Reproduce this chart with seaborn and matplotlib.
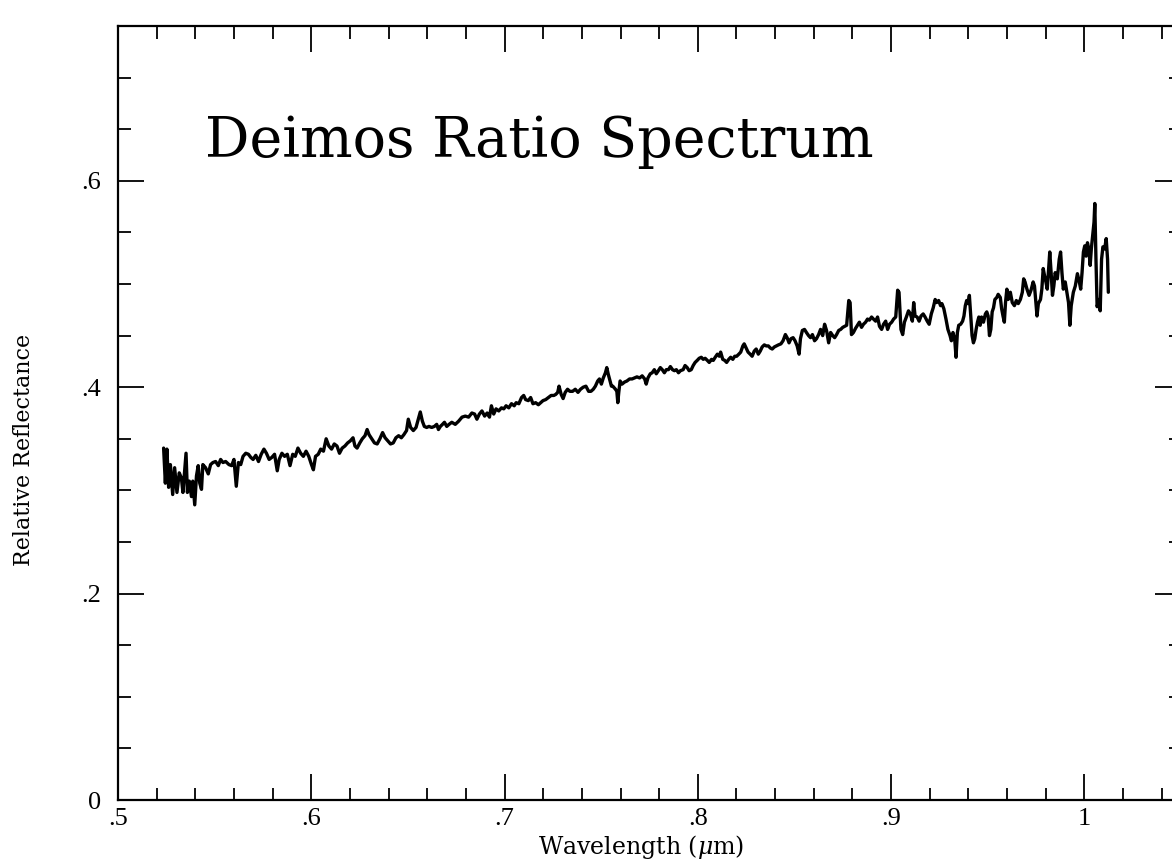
import numpy as np
import pandas as pd
import matplotlib
matplotlib.use("Agg")
import matplotlib.pyplot as plt
import seaborn as sns
from matplotlib.ticker import FixedLocator, FixedFormatter, MultipleLocator

# ---------------- data ----------------
wl_a = [0.5236,0.5245,0.5253,0.5262,0.5271,0.5283,0.5293,0.5305,0.5317,0.5328,
        0.5336,0.5345,0.5352,0.5359,0.5369,0.5380,0.5387,0.5397,0.5406,0.5415,
        0.5423,0.5432,0.5439,0.5453,0.5467,0.5479,0.5491,0.5505,0.5519,0.5531,
        0.5543,0.5557,0.5574,0.5588,0.5600,0.5612,0.5623,0.5635,0.5647,0.5661,
        0.5675,0.5687,0.5699,0.5713,0.5727,0.5741,0.5755,0.5768,0.5782,0.5796,
        0.5810,0.5824,0.5834,0.5848,0.5862,0.5876,0.5890,0.5904,0.5917,0.5931,
        0.5945,0.5959,0.5973,0.5987,0.6001,0.6011,0.6022,0.6036,0.6049,0.6063,
        0.6077,0.6091,0.6105,0.6119,0.6133,0.6146,0.6160,0.6174,0.6188,0.6202,
        0.6216,0.6226,0.6237,0.6251,0.6264,0.6278,0.6289,0.6299,0.6313,0.6327,
        0.6341,0.6355,0.6369,0.6382,0.6396,0.6410,0.6424,0.6438,0.6452,0.6466,
        0.6479,0.6493,0.6502,0.6514,0.6528,0.6542]
refl_a = [0.341,0.307,0.340,0.303,0.325,0.296,0.322,0.298,0.317,0.312,
          0.298,0.319,0.336,0.298,0.309,0.294,0.309,0.286,0.314,0.324,
          0.307,0.301,0.325,0.322,0.316,0.325,0.327,0.328,0.324,0.330,
          0.327,0.328,0.325,0.324,0.330,0.304,0.327,0.325,0.333,0.336,
          0.335,0.332,0.330,0.334,0.328,0.335,0.340,0.336,0.330,0.332,
          0.335,0.319,0.330,0.336,0.333,0.335,0.324,0.335,0.333,0.341,
          0.336,0.333,0.338,0.333,0.325,0.320,0.333,0.335,0.340,0.338,
          0.350,0.343,0.340,0.345,0.343,0.336,0.341,0.343,0.346,0.348,
          0.351,0.343,0.341,0.346,0.350,0.353,0.359,0.354,0.350,0.346,
          0.345,0.350,0.356,0.351,0.348,0.345,0.346,0.351,0.353,0.351,
          0.354,0.358,0.369,0.361,0.358,0.361]

wl_b = [0.6554,0.6564,0.6575,0.6585,0.6597,0.6609,0.6623,0.6637,0.6649,0.6658,
        0.6668,0.6679,0.6689,0.6701,0.6713]
refl_b = [0.369,0.376,0.367,0.362,0.361,0.362,0.361,0.362,0.364,0.359,
          0.362,0.364,0.366,0.362,0.364]

wl_c = [0.6727,0.6745,0.6762,0.6780,0.6797,0.6814,0.6831,0.6845,0.6857,0.6870,
        0.6883,0.6897,0.6910,0.6922,0.6932,0.6944,0.6956,0.6970,0.6984,0.6996,
        0.7008,0.7022,0.7036,0.7050,0.7060,0.7074,0.7088,0.7099,0.7109,0.7123,
        0.7135,0.7147,0.7161,0.7175,0.7187,0.7199,0.7213,0.7227,0.7241,0.7255,
        0.7265,0.7275,0.7282,0.7293,0.7303,0.7314,0.7326,0.7338,0.7352,0.7366,
        0.7380,0.7393,0.7407,0.7421,0.7435,0.7447,0.7459,0.7470,0.7482,0.7491,
        0.7501,0.7511,0.7522,0.7529,0.7536,0.7543,0.7553]
refl_c = [0.366,0.364,0.367,0.371,0.372,0.371,0.375,0.374,0.369,0.374,
          0.377,0.372,0.375,0.371,0.382,0.374,0.379,0.377,0.380,0.379,
          0.382,0.380,0.384,0.382,0.385,0.384,0.390,0.392,0.388,0.387,
          0.390,0.384,0.385,0.383,0.385,0.387,0.388,0.390,0.392,0.392,
          0.393,0.395,0.401,0.393,0.389,0.395,0.398,0.396,0.396,0.398,
          0.395,0.398,0.400,0.401,0.396,0.396,0.398,0.401,0.406,0.408,
          0.403,0.409,0.414,0.419,0.413,0.408,0.401]

wl_d = [0.7560,0.7574,0.7581,0.7586,0.7591,0.7598,0.7608,0.7621,0.7633,0.7647,
        0.7660,0.7673,0.7685,0.7699,0.7712,0.7725,0.7733,0.7742,0.7754,0.7764,
        0.7775,0.7785,0.7796,0.7806,0.7816,0.7827,0.7837,0.7848,0.7858,0.7869,
        0.7879,0.7889,0.7900,0.7910,0.7924,0.7934,0.7945,0.7955,0.7966,0.7976,
        0.7986,0.7997,0.8007,0.8018,0.8028,0.8038,0.8049,0.8059,0.8071,0.8080,
        0.8090,0.8101,0.8111,0.8118,0.8129,0.8139,0.8149,0.8160,0.8170,0.8181,
        0.8191,0.8201,0.8212,0.8222,0.8233,0.8240,0.8250,0.8260,0.8271,0.8281,
        0.8292,0.8302,0.8313,0.8323,0.8333,0.8344,0.8354,0.8365,0.8375,0.8385,
        0.8396,0.8406,0.8417]
refl_d = [0.401,0.398,0.396,0.385,0.395,0.406,0.403,0.405,0.406,0.408,
          0.408,0.409,0.410,0.409,0.411,0.408,0.403,0.409,0.413,0.414,
          0.417,0.413,0.416,0.419,0.417,0.414,0.417,0.417,0.420,0.417,
          0.416,0.417,0.414,0.416,0.417,0.421,0.419,0.416,0.417,0.421,
          0.424,0.426,0.428,0.429,0.427,0.428,0.426,0.424,0.427,0.426,
          0.429,0.432,0.430,0.434,0.427,0.426,0.424,0.427,0.429,0.427,
          0.430,0.430,0.432,0.434,0.440,0.442,0.438,0.434,0.432,0.430,
          0.435,0.437,0.432,0.435,0.439,0.441,0.440,0.440,0.438,0.437,
          0.439,0.440,0.441]

wl_e = [0.8430,0.8441,0.8453,0.8462,0.8472,0.8482,0.8493,
        0.8503,0.8514,0.8524,0.8531,0.8541,0.8552,0.8562,0.8573,0.8583,0.8593,
        0.8604,0.8614,0.8625,0.8635,0.8646,0.8656,0.8666,0.8677,0.8687,0.8698,
        0.8708,0.8718,0.8729,0.8739,0.8750,0.8760,0.8770,0.8781,0.8788,0.8795,
        0.8805,0.8816,0.8826,0.8836,0.8847,0.8857,0.8868,0.8878,0.8888,0.8899,
        0.8909,0.8920,0.8930,0.8940,0.8951,0.8961,0.8972,0.8982,0.8992,0.9003,
        0.9013,0.9024,0.9034,0.9041,0.9051,0.9060,0.9069,0.9079,0.9090,0.9100,
        0.9110,0.9117,0.9124,0.9135,0.9145,0.9155,0.9166,0.9176,0.9187,0.9197,
        0.9208,0.9218,0.9228]
refl_e = [0.442,0.445,0.451,0.448,0.443,0.447,0.448,
          0.445,0.440,0.432,0.447,0.455,0.456,0.453,0.450,0.448,0.451,
          0.445,0.447,0.451,0.456,0.450,0.461,0.455,0.443,0.453,0.450,
          0.448,0.451,0.455,0.456,0.458,0.459,0.460,0.484,0.482,0.451,
          0.453,0.457,0.460,0.463,0.458,0.461,0.463,0.466,0.465,0.468,
          0.466,0.464,0.468,0.459,0.456,0.461,0.464,0.456,0.461,0.463,
          0.466,0.468,0.494,0.492,0.456,0.451,0.463,0.468,0.474,0.471,
          0.464,0.482,0.469,0.468,0.464,0.469,0.471,0.468,0.464,0.461,
          0.471,0.477,0.485]

wl_f = [0.9235,0.9246,0.9256,0.9263,0.9273,0.9284,0.9294,0.9305,0.9312,
        0.9320,0.9329,0.9336,0.9343,0.9350,0.9360,0.9370,0.9377,0.9384,0.9391,
        0.9398,0.9405,0.9412,0.9419,0.9426,0.9433,0.9440,0.9447,0.9454,0.9461,
        0.9468,0.9478,0.9488,0.9495,0.9502,0.9509,0.9516,0.9523,0.9530,0.9537,
        0.9547,0.9554,0.9565,0.9572,0.9579,0.9586,0.9592,0.9599,0.9606,0.9617,
        0.9627,0.9638,0.9648,0.9658,0.9669,0.9679,0.9686,0.9693,0.9703,0.9714,
        0.9724,0.9735,0.9742,0.9749,0.9755,0.9762,0.9773,0.9780,0.9787,0.9794,
        0.9801,0.9808,0.9814,0.9821,0.9828,0.9835,0.9842,0.9849,0.9860,0.9870,
        0.9877,0.9884,0.9891,0.9901,0.9912,0.9918,0.9925,0.9932,0.9943,0.9953,
        0.9964,0.9974,0.9981,0.9988,0.9995,1.0002,1.0009,1.0016,1.0023,1.0030,
        1.0036,1.0043,1.0050,1.0054]
refl_f = [0.482,0.484,0.479,0.481,0.476,0.466,0.456,0.450,0.445,
          0.453,0.447,0.429,0.453,0.460,0.461,0.464,0.469,0.479,0.484,
          0.481,0.489,0.469,0.450,0.443,0.447,0.456,0.463,0.468,0.460,
          0.468,0.463,0.471,0.473,0.469,0.450,0.456,0.473,0.477,0.485,
          0.487,0.490,0.487,0.476,0.469,0.463,0.482,0.495,0.485,0.492,
          0.482,0.479,0.484,0.481,0.485,0.492,0.505,0.502,0.495,0.489,
          0.494,0.502,0.498,0.482,0.469,0.481,0.485,0.495,0.515,0.508,
          0.502,0.495,0.511,0.531,0.511,0.489,0.498,0.511,0.505,0.524,
          0.531,0.511,0.495,0.502,0.489,0.482,0.460,0.479,0.492,0.498,
          0.510,0.502,0.495,0.511,0.531,0.537,0.527,0.540,0.534,0.518,
          0.534,0.547,0.560,0.578]

wl_g = [1.0060,1.0066,1.0075,1.0082,1.0089,1.0096,1.0105,1.0113,1.0120,1.0124]
refl_g = [0.524,0.478,0.485,0.474,0.524,0.536,0.534,0.544,0.524,0.492]

x_major = [0.5, 0.6, 0.7, 0.8, 0.9, 1.0]
x_labels = [".5", ".6", ".7", ".8", ".9", "1"]
y_major = [0.0, 0.2, 0.4, 0.6]
y_labels = ["0", ".2", ".4", ".6"]

title_text = "Deimos Ratio Spectrum"
x_title = r"Wavelength ($\mu$m)"
y_title = "Relative Reflectance"

# ---------------- build frame ----------------
wavelength = wl_a + wl_b + wl_c + wl_d + wl_e + wl_f + wl_g
reflectance = refl_a + refl_b + refl_c + refl_d + refl_e + refl_f + refl_g
df = pd.DataFrame({"wavelength": wavelength, "reflectance": reflectance})

# ---------------- style ----------------
sns.set_theme(style="ticks")
plt.rcParams["font.family"] = ["DejaVu Serif"]
plt.rcParams["mathtext.fontset"] = "dejavuserif"

W, H = 1172, 863
fig = plt.figure(figsize=(W / 100, H / 100), dpi=100)
fig.patch.set_facecolor("white")

left_px, right_px = 118, 1181
bottom_px, top_px = 800, 26
ax = fig.add_axes([left_px / W, 1 - bottom_px / H,
                   (right_px - left_px) / W, (bottom_px - top_px) / H])
ax.set_facecolor("white")

sns.lineplot(data=df, x="wavelength", y="reflectance", ax=ax,
             color="black", linewidth=2.4, estimator=None, sort=False)

ax.set_xlim(0.5, 1.05)
ax.set_ylim(0.0, 0.75)

ax.xaxis.set_major_locator(FixedLocator(x_major))
ax.xaxis.set_major_formatter(FixedFormatter(x_labels))
ax.xaxis.set_minor_locator(MultipleLocator(0.02))
ax.yaxis.set_major_locator(FixedLocator(y_major))
ax.yaxis.set_major_formatter(FixedFormatter(y_labels))
ax.yaxis.set_minor_locator(MultipleLocator(0.05))

ax.tick_params(which="both", direction="in", top=True, right=True,
               color="black", width=1.3)
ax.tick_params(which="major", length=19)
ax.tick_params(which="minor", length=9)
ax.tick_params(axis="x", which="major", pad=6)
ax.tick_params(axis="y", which="major", pad=12)
for lab in ax.get_xticklabels() + ax.get_yticklabels():
    lab.set_fontfamily("Liberation Serif")
    lab.set_fontsize(19)
    lab.set_color("black")

for sp in ax.spines.values():
    sp.set_visible(True)
    sp.set_color("black")
    sp.set_linewidth(1.6)

ax.set_xlabel(x_title, fontsize=17, color="black")
ax.xaxis.set_label_coords(0.492, -0.043)
ax.set_ylabel(y_title, fontsize=16, color="black")
ax.yaxis.set_label_coords(-0.078, 0.452)

ax.text(0.082, 0.85, title_text, transform=ax.transAxes,
        fontsize=40, color="black", ha="left", va="center",
        fontfamily="DejaVu Serif")

fig.savefig("out.png", dpi=100, facecolor="white")
